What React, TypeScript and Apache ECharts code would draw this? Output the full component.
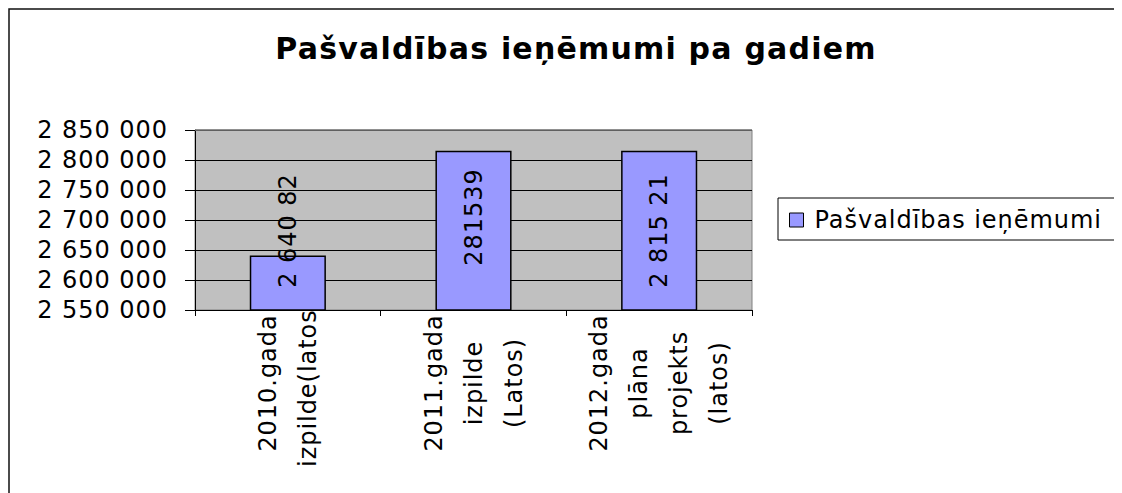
import React, { useEffect, useRef } from "react";
import * as echarts from "echarts";

const TITLE = "Pašvaldības ieņēmumi pa gadiem";
const SERIES_NAME = "Pašvaldības ieņēmumi";
const categories = [
  "2010.gada\nizpilde(latos)",
  "2011.gada\nizpilde\n(Latos)",
  "2012.gada\nplāna\nprojekts\n(latos)",
];
const values = [2640820, 2815394, 2815210];
const valueLabels = ["2 640 82", "281539", "2 815 21"];
const yMin = 2550000;
const yMax = 2850000;
const yStep = 50000;

const FONT = "'DejaVu Sans', 'Liberation Sans', Arial, sans-serif";

const fmt = (v: number) => String(v).replace(/\B(?=(\d{3})+(?!\d))/g, " ");

export default function App() {
  const ref = useRef<HTMLDivElement>(null);
  useEffect(() => {
    if (!ref.current) return;
    const chart = echarts.init(ref.current, undefined, { renderer: "svg" });
    chart.setOption({
      animation: false,
      backgroundColor: "#ffffff",
      textStyle: { fontFamily: FONT },
      graphic: [
        {
          type: "rect",
          z: 100,
          silent: true,
          shape: { x: 1, y: 1, width: 1108, height: 1000 },
          style: { fill: "none", stroke: "#111", lineWidth: 1.5 },
        },
        {
          type: "rect",
          z: 0,
          silent: true,
          shape: { x: 770, y: 190, width: 339, height: 42 },
          style: { fill: "#fff", stroke: "#000", lineWidth: 1 },
        },
        {
          type: "text",
          x: 568,
          y: 40,
          style: {
            text: TITLE,
            align: "center",
            verticalAlign: "middle",
            font: `bold 30px ${FONT}`,
            fill: "#000",
          },
        },
      ],
      legend: {
        show: true,
        left: 781,
        top: 200,
        padding: 0,
        itemWidth: 14,
        itemHeight: 14,
        icon: "rect",
        itemStyle: { borderColor: "#000", borderWidth: 1 },
        textStyle: { fontSize: 24, color: "#000", fontFamily: FONT, lineHeight: 24, padding: [0, 0, 0, 6] },
        data: [SERIES_NAME],
      },
      grid: {
        left: 187,
        top: 122,
        width: 557,
        height: 180,
        show: true,
        backgroundColor: "#C0C0C0",
        borderColor: "#808080",
        borderWidth: 1,
        containLabel: false,
      },
      xAxis: {
        type: "category",
        data: categories,
        boundaryGap: true,
        axisLine: { show: true, lineStyle: { color: "#000", width: 1 } },
        axisTick: { show: true, length: 6, lineStyle: { color: "#000" }, alignWithLabel: false },
        axisLabel: {
          interval: 0,
          rotate: 90,
          align: "center",
          verticalAlign: "middle",
          margin: 73,
          lineHeight: 40,
          fontSize: 24,
          color: "#000",
          fontFamily: FONT,
        },
        splitLine: { show: false },
      },
      yAxis: {
        type: "value",
        min: yMin,
        max: yMax,
        interval: yStep,
        axisLine: { show: true, lineStyle: { color: "#000", width: 1 } },
        axisTick: { show: true, length: 10, lineStyle: { color: "#000" } },
        axisLabel: { fontSize: 24, color: "#000", margin: 27, fontFamily: FONT, formatter: fmt },
        splitLine: { show: true, lineStyle: { color: "#000", width: 1 } },
      },
      series: [
        {
          name: SERIES_NAME,
          type: "bar",
          barWidth: "41%",
          data: values.map((v, i) => (i === 1 ? { value: v, label: { distance: 45 } } : v)),
          itemStyle: { color: "#9999FF", borderColor: "#000", borderWidth: 1.5 },
          label: {
            show: true,
            position: "insideBottom",
            distance: 23,
            rotate: 90,
            align: "left",
            verticalAlign: "middle",
            fontSize: 24,
            color: "#000",
            fontFamily: FONT,
            formatter: (p: any) => valueLabels[p.dataIndex],
          },
          markLine: {
            silent: true,
            symbol: "none",
            label: { show: false },
            lineStyle: { color: "#808080", type: "solid", width: 1.5 },
            data: [{ yAxis: yMax }],
          },
        },
      ],
    });
    return () => chart.dispose();
  }, []);
  return (
    <>
      <style>{`.chart-host svg text { letter-spacing: 0.04em; }`}</style>
      <div ref={ref} className="chart-host" style={{ width: 1114, height: 485 }} />
    </>
  );
}
